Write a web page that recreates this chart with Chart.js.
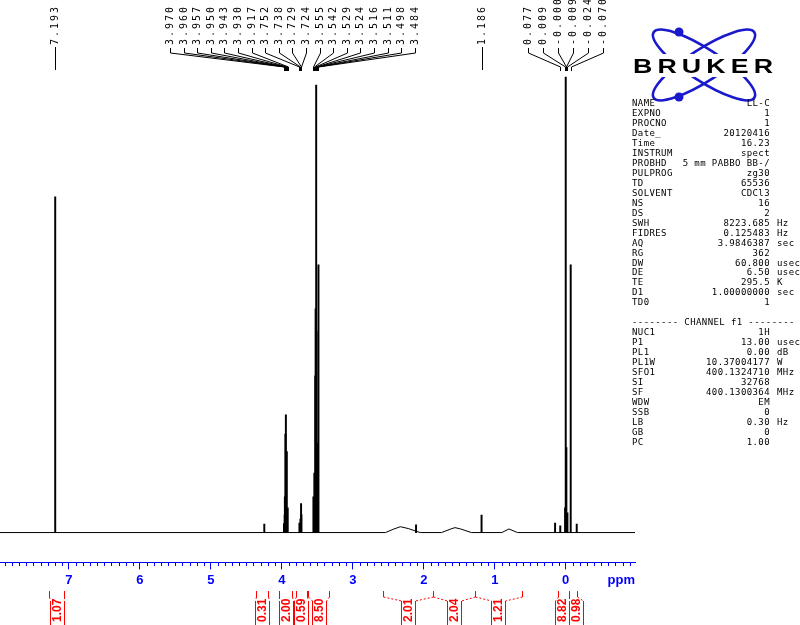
<!DOCTYPE html>
<html><head><meta charset="utf-8">
<script src="https://cdn.jsdelivr.net/npm/chart.js@4.4.1/dist/chart.umd.min.js"></script>
<style>html,body{margin:0;padding:0;background:#fff;}canvas{display:block}</style>
</head><body>
<canvas id="c" width="800" height="625"></canvas>
<script>
// ---- spectrum data (ppm, relative intensity) ----
const peakPpm    = [7.193, 4.247, 3.970, 3.960, 3.957, 3.950, 3.943, 3.930, 3.917, 3.752, 3.738, 3.729, 3.724,
                    3.555, 3.542, 3.529, 3.524, 3.516, 3.511, 3.498, 3.484, 2.109, 1.186, 0.150, 0.077, 0.009,
                    -0.000, -0.009, -0.024, -0.070, -0.155];
const peakHeight = [75.0, 1.9, 2.0, 3.9, 8.0, 22.0, 26.3, 18.1, 5.5, 2.1, 3.0, 6.5, 4.0,
                    8.0, 13.3, 35.0, 50.0, 100.0, 45.0, 20.0, 59.8, 1.7, 3.9, 2.1, 1.5, 5.5,
                    101.8, 19.0, 4.4, 59.8, 1.9];
const baselinePpm    = [7.971, 2.54, 2.42, 2.33, 2.22, 2.05, 1.75, 1.62, 1.56, 1.48, 1.33, 0.90, 0.80, 0.68, -0.976];
const baselineHeight = [0, 0, 0.8, 1.3, 0.9, 0, 0, 0.8, 1.1, 0.8, 0, 0, 0.8, 0, 0];
const xTicks = [0, 1, 2, 3, 4, 5, 6, 7];

// ---- peak labels ----
const peakLabelPpm  = [7.193, 3.970, 3.960, 3.957, 3.950, 3.943, 3.930, 3.917, 3.752, 3.738, 3.729, 3.724,
                       3.555, 3.542, 3.529, 3.524, 3.516, 3.511, 3.498, 3.484, 1.186,
                       0.077, 0.009, -0.000, -0.009, -0.024, -0.070];
const peakLabelText = ['7.193', '3.970', '3.960', '3.957', '3.950', '3.943', '3.930', '3.917', '3.752', '3.738', '3.729', '3.724',
                       '3.555', '3.542', '3.529', '3.524', '3.516', '3.511', '3.498', '3.484', '1.186',
                       '0.077', '0.009', '-0.000', '-0.009', '-0.024', '-0.070'];

// ---- integrals ----
const intFrom  = [7.276, 4.364, 4.035, 3.804, 3.631, 2.578, 1.870, 1.278, 0.104, -0.051];
const intTo    = [7.069, 4.190, 3.861, 3.649, 3.331, 1.870, 1.278, 0.620, -0.051, -0.163];
const intValue = ['1.07', '0.31', '2.00', '0.59', '8.50', '2.01', '2.04', '1.21', '8.82', '0.98'];

// ---- acquisition parameters ----
const paramNames  = ['NAME', 'EXPNO', 'PROCNO', 'Date_', 'Time', 'INSTRUM', 'PROBHD', 'PULPROG', 'TD', 'SOLVENT',
                     'NS', 'DS', 'SWH', 'FIDRES', 'AQ', 'RG', 'DW', 'DE', 'TE', 'D1', 'TD0'];
const paramValues = ['LL-C', '1', '1', '20120416', '16.23', 'spect', '5 mm PABBO BB-/', 'zg30', '65536', 'CDCl3',
                     '16', '2', '8223.685', '0.125483', '3.9846387', '362', '60.800', '6.50', '295.5', '1.00000000', '1'];
const paramUnits  = ['', '', '', '', '', '', '', '', '', '', '', '', 'Hz', 'Hz', 'sec', '', 'usec', 'usec', 'K', 'sec', ''];
const channelTitle = '-------- CHANNEL f1 --------';
const chanNames  = ['NUC1', 'P1', 'PL1', 'PL1W', 'SFO1', 'SI', 'SF', 'WDW', 'SSB', 'LB', 'GB', 'PC'];
const chanValues = ['1H', '13.00', '0.00', '10.37004177', '400.1324710', '32768', '400.1300364', 'EM', '0', '0.30', '0', '1.00'];
const chanUnits  = ['', 'usec', 'dB', 'W', 'MHz', '', 'MHz', '', '', 'Hz', '', ''];

const BLUE = '#0000ff';
const RED = '#ff0000';

const decor = {
  id: 'nmrDecor',
  afterDraw(chart) {
    const ctx = chart.ctx, xs = chart.scales.x, area = chart.chartArea;
    const px = v => xs.getPixelForValue(v);
    const cr = v => Math.round(v) + 0.5;
    ctx.save();
    // minor ticks
    const axisY = Math.floor(xs.top) + 0.5;
    ctx.strokeStyle = BLUE; ctx.lineWidth = 1;
    ctx.beginPath();
    for (let k = -9; k <= 79; k++) {
      if (k % 10 === 0) continue;
      const x = cr(px(k / 10));
      ctx.moveTo(x, axisY); ctx.lineTo(x, axisY + 3.5);
    }
    ctx.stroke();
    // ppm label
    ctx.fillStyle = BLUE;
    ctx.font = 'bold 13px "Liberation Sans", Arial, sans-serif';
    ctx.textAlign = 'right'; ctx.textBaseline = 'middle';
    ctx.fillText('ppm', area.right, 580);

    // peak labels
    const fans = [{first: 1, count: 19, x0: 170, pitch: 13.6}, {first: 21, count: 6, x0: 528, pitch: 15}];
    ctx.font = '10px "DejaVu Sans Mono", monospace';
    ctx.letterSpacing = '2px';
    ctx.fillStyle = '#000'; ctx.strokeStyle = '#000'; ctx.lineWidth = 1;
    ctx.textAlign = 'left'; ctx.textBaseline = 'middle';
    peakLabelPpm.forEach((p, i) => {
      const pk = px(p);
      let col = pk, fan = null;
      for (const f of fans) if (i >= f.first && i < f.first + f.count) { fan = f; col = f.x0 + (i - f.first) * f.pitch; }
      ctx.save();
      ctx.translate(Math.round(col), 45);
      ctx.rotate(-Math.PI / 2);
      ctx.fillText(peakLabelText[i], 0, 0);
      ctx.restore();
      ctx.beginPath();
      if (fan) {
        ctx.moveTo(cr(col), 48); ctx.lineTo(cr(col), 53);
        ctx.lineTo(cr(pk), 67); ctx.lineTo(cr(pk), 71);
      } else {
        ctx.moveTo(cr(pk), 47); ctx.lineTo(cr(pk), 70);
      }
      ctx.stroke();
    });
    ctx.letterSpacing = '0px';

    // integrals
    const edges = intFrom.map((f, i) => [px(f), px(intTo[i])]);
    const centers = edges.map(e => (e[0] + e[1]) / 2);
    const W = 14;
    for (let it = 0; it < 20; it++) {
      for (let i = 0; i < centers.length - 1; i++) {
        const gap = centers[i + 1] - centers[i];
        if (gap < W) { const d = (W - gap) / 2; centers[i] -= d; centers[i + 1] += d; }
      }
    }
    ctx.strokeStyle = RED; ctx.fillStyle = RED; ctx.lineWidth = 1;
    ctx.font = 'bold 12px "Liberation Sans", Arial, sans-serif';
    ctx.textAlign = 'left'; ctx.textBaseline = 'middle';
    edges.forEach((e, i) => {
      const bl = centers[i] - W / 2, br = centers[i] + W / 2;
      ctx.setLineDash([]);
      ctx.beginPath();
      ctx.moveTo(cr(e[0]), 591); ctx.lineTo(cr(e[0]), 597);
      ctx.moveTo(cr(e[1]), 591); ctx.lineTo(cr(e[1]), 597);
      ctx.moveTo(cr(bl), 601); ctx.lineTo(cr(bl), 625);
      ctx.moveTo(cr(br), 601); ctx.lineTo(cr(br), 625);
      ctx.stroke();
      ctx.setLineDash([2, 2]);
      ctx.beginPath();
      ctx.moveTo(cr(e[0]), 597); ctx.lineTo(cr(bl), 601);
      ctx.moveTo(cr(e[1]), 597); ctx.lineTo(cr(br), 601);
      ctx.stroke();
      ctx.setLineDash([]);
      ctx.save();
      ctx.translate(Math.round(centers[i]) + 0.5, 622);
      ctx.rotate(-Math.PI / 2);
      ctx.fillText(intValue[i], 0, 0);
      ctx.restore();
    });

    // Bruker logo
    const LB = '#1a1acc';
    ctx.strokeStyle = LB; ctx.lineWidth = 2.6;
    [33, -33].forEach(a => {
      ctx.beginPath();
      ctx.ellipse(704, 65, 60, 16, a * Math.PI / 180, 0, Math.PI * 2);
      ctx.stroke();
    });
    ctx.fillStyle = LB;
    [[679, 32], [679, 97]].forEach(([x, y]) => { ctx.beginPath(); ctx.arc(x, y, 4.5, 0, Math.PI * 2); ctx.fill(); });
    ctx.fillStyle = '#fff';
    ctx.fillRect(628, 54, 150, 23);
    ctx.fillStyle = '#000';
    ctx.font = 'bold 21px "Liberation Sans", Arial, sans-serif';
    ctx.letterSpacing = '4px';
    ctx.textAlign = 'left'; ctx.textBaseline = 'alphabetic';
    const tw = ctx.measureText('BRUKER').width - 4;
    ctx.save();
    ctx.translate(633, 73);
    ctx.scale(140 / tw, 1);
    ctx.fillText('BRUKER', 0, 0);
    ctx.restore();
    ctx.letterSpacing = '0px';

    // parameter table
    ctx.fillStyle = '#000';
    ctx.font = '9px "DejaVu Sans Mono", monospace';
    ctx.letterSpacing = '0.4px';
    ctx.textBaseline = 'middle';
    const y0 = 104, pitch = 9.95;
    const row = (r, n, v, u) => {
      const y = y0 + r * pitch;
      ctx.textAlign = 'left'; ctx.fillText(n, 632, y);
      ctx.textAlign = 'right'; ctx.fillText(v, 770, y);
      if (u) { ctx.textAlign = 'left'; ctx.fillText(u, 777, y); }
    };
    paramNames.forEach((n, i) => row(i, n, paramValues[i], paramUnits[i]));
    ctx.textAlign = 'left';
    ctx.fillText(channelTitle, 632, y0 + 22 * pitch);
    chanNames.forEach((n, i) => row(23 + i, n, chanValues[i], chanUnits[i]));
    ctx.restore();
  }
};

new Chart(document.getElementById('c'), {
  type: 'line',
  data: {
    datasets: [
      { type: 'bar', data: peakPpm.map((p, i) => ({x: p, y: peakHeight[i]})),
        backgroundColor: '#000', borderWidth: 0, barThickness: 1.3 },
      { type: 'line', data: baselinePpm.map((p, i) => ({x: p, y: baselineHeight[i]})),
        borderColor: '#000', borderWidth: 1, pointRadius: 0, tension: 0, fill: false }
    ]
  },
  options: {
    responsive: false, animation: false, devicePixelRatio: 1,
    layout: {padding: {left: 0, right: 165, top: 0, bottom: 34}},
    plugins: {legend: {display: false}, tooltip: {enabled: false}},
    scales: {
      x: {
        type: 'linear', reverse: true, min: -0.976, max: 7.971, offset: false,
        grid: {display: true, offset: false, drawOnChartArea: false, drawTicks: true, tickLength: 7, color: BLUE, lineWidth: 1},
        border: {display: true, color: BLUE, width: 1},
        afterBuildTicks: s => { s.ticks = xTicks.map(v => ({value: v})); },
        ticks: {color: BLUE, font: {family: '"Liberation Sans", Arial, sans-serif', size: 13, weight: 'bold'},
                padding: 3, maxRotation: 0, autoSkip: false, callback: v => String(v)}
      },
      y: {display: false, min: -6.67, max: 119.0}
    }
  },
  plugins: [decor]
});
</script>
</body></html>
